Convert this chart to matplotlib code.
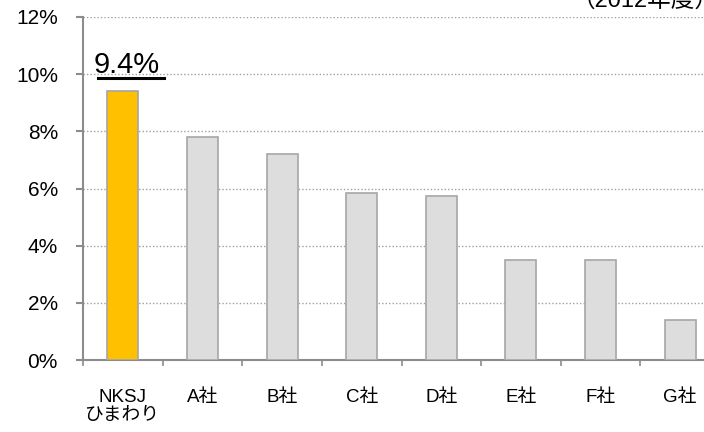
import matplotlib
matplotlib.use("Agg")
import matplotlib.pyplot as plt
from matplotlib.ticker import FixedLocator, PercentFormatter

plt.rcParams["font.family"] = ["Liberation Sans", "Noto Sans CJK JP", "DejaVu Sans"]

categories = ["NKSJ\nひまわり", "A社", "B社", "C社", "D社", "E社", "F社", "G社"]
values = [9.4, 7.8, 7.2, 5.85, 5.75, 3.5, 3.5, 1.4]
bar_colors = ["#FFC000"] + ["#DDDDDD"] * 7
highlight_label = "9.4%"
period_note = "（2012年度）"

W, H = 704, 432
fig = plt.figure(figsize=(W / 100, H / 100), dpi=100)
# axes run a bit past the right edge, as in the original crop
ax = fig.add_axes([83 / W, 1 - 360 / H, 637 / W, 343 / H])

x = [i + 0.5 for i in range(len(categories))]
ax.bar(x, values, width=0.39, color=bar_colors, edgecolor="#A6A6A6",
       linewidth=1.2, zorder=3)

ax.set_xlim(0, 8)
ax.set_ylim(0, 12)
ax.set_yticks(range(0, 13, 2))
ax.yaxis.set_major_formatter(PercentFormatter(decimals=0))
ax.grid(axis="y", linestyle=(0, (1, 1.5)), color="#A0A0A0", linewidth=1, zorder=0)

ax.xaxis.set_major_locator(FixedLocator(range(0, 9)))
ax.xaxis.set_minor_locator(FixedLocator(x))
ax.set_xticklabels([])
ax.set_xticklabels(categories, minor=True)
ax.tick_params(axis="x", which="major", direction="out", length=4.5,
               color="#8C8C8C", width=1.2)
ax.tick_params(axis="x", which="minor", length=0, pad=21, labelsize=13.5)
for lab in ax.get_xticklabels(minor=True):
    lab.set_linespacing(1.1)
ax.tick_params(axis="y", direction="out", length=5, color="#8C8C8C",
               width=1.5, pad=13, labelsize=15)

for side in ["top", "right"]:
    ax.spines[side].set_visible(False)
for side in ["left", "bottom"]:
    ax.spines[side].set_color("#8C8C8C")
    ax.spines[side].set_linewidth(1.5)

# highlighted value with underline
ax.text(x[0] + 0.05, values[0] + 0.64, highlight_label, ha="center",
        va="baseline", fontsize=21, zorder=4)
ax.plot([x[0] - 0.31, x[0] + 0.52], [values[0] + 0.47] * 2, color="black",
        linewidth=2.2, zorder=4, clip_on=False)

fig.text(572 / W, 1 - 7 / H, period_note, ha="left", va="baseline", fontsize=17)

fig.savefig("out.png", dpi=100)
